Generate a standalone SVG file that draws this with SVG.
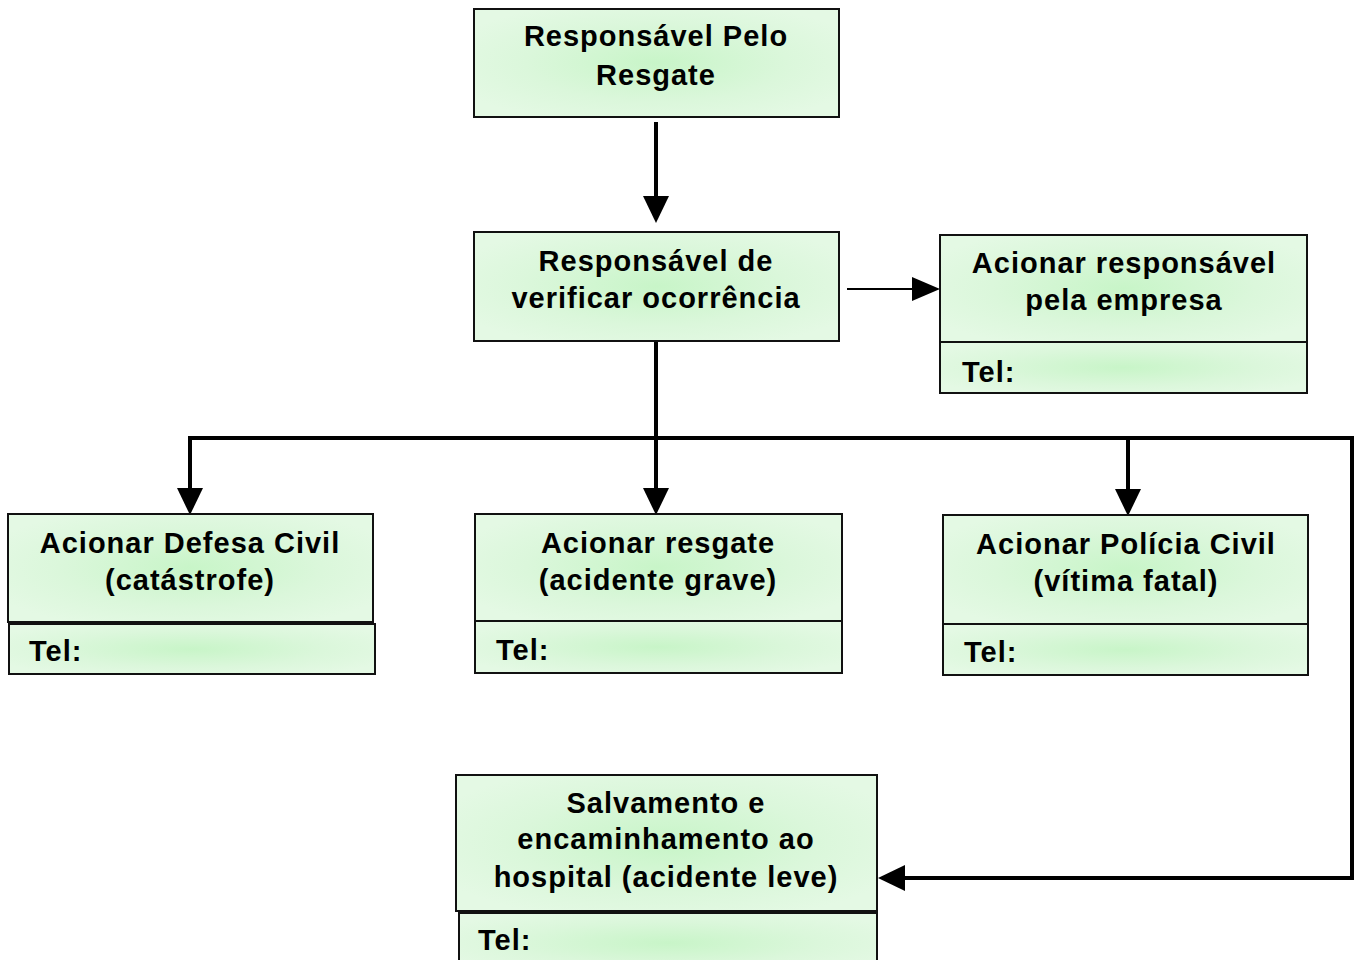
<svg xmlns="http://www.w3.org/2000/svg" width="1359" height="960" viewBox="0 0 1359 960">
<defs>
<radialGradient id="g" cx="0.5" cy="0.5" r="0.6">
<stop offset="0" stop-color="#c8f5c8"/>
<stop offset="0.6" stop-color="#dbf7db"/>
<stop offset="1" stop-color="#e4f9e4"/>
</radialGradient>
<marker id="ah" markerUnits="userSpaceOnUse" markerWidth="27" markerHeight="26" refX="0" refY="13" orient="auto" viewBox="0 0 27 26">
<path d="M0,0 L27,13 L0,26 Z" fill="#000"/>
</marker>
<marker id="ahs" markerUnits="userSpaceOnUse" markerWidth="28" markerHeight="24" refX="0" refY="12" orient="auto" viewBox="0 0 28 24">
<path d="M0,0 L28,12 L0,24 Z" fill="#000"/>
</marker>
</defs>
<style>
.b{fill:url(#g);stroke:#111;stroke-width:2}
.t{font-family:"Liberation Sans",Arial,sans-serif;font-weight:bold;font-size:29px;letter-spacing:1px;fill:#000;text-anchor:middle}
.l{font-family:"Liberation Sans",Arial,sans-serif;font-weight:bold;font-size:29px;letter-spacing:1px;fill:#000}
.c{fill:none;stroke:#000;stroke-width:4;stroke-linejoin:miter}
.cs{fill:none;stroke:#000;stroke-width:2}
</style>
<rect width="1359" height="960" fill="#fff"/>
<g id="connectors">
<path class="c" d="M656,122 L656,196" marker-end="url(#ah)"/>
<path class="cs" d="M847,289 L912,289" marker-end="url(#ahs)"/>
<path class="c" d="M656,341 L656,488" marker-end="url(#ah)"/>
<path class="c" d="M190,488 L190,438 L1352,438 L1352,878 L905,878" marker-end="url(#ah)"/>
<path class="c" d="M190,440 L190,488" marker-end="url(#ah)"/>
<path class="c" d="M1128,438 L1128,489" marker-end="url(#ah)"/>
</g>
<g id="n1">
<rect class="b" x="474" y="9" width="365" height="108"/>
<text class="t" x="656" y="46">Responsável Pelo</text>
<text class="t" x="656" y="85">Resgate</text>
</g>
<g id="n2">
<rect class="b" x="474" y="232" width="365" height="109"/>
<text class="t" x="656" y="271">Responsável de</text>
<text class="t" x="656" y="308">verificar ocorrência</text>
</g>
<g id="n3">
<rect class="b" x="940" y="235" width="367" height="107"/>
<rect class="b" x="940" y="342" width="367" height="51"/>
<text class="t" x="1124" y="273">Acionar responsável</text>
<text class="t" x="1124" y="310">pela empresa</text>
<text class="l" x="962" y="382">Tel:</text>
</g>
<g id="n4">
<rect class="b" x="8" y="514" width="365" height="108"/>
<rect class="b" x="9" y="624" width="366" height="50"/>
<text class="t" x="190" y="553">Acionar Defesa Civil</text>
<text class="t" x="190" y="590">(catástrofe)</text>
<text class="l" x="29" y="661">Tel:</text>
</g>
<g id="n5">
<rect class="b" x="475" y="514" width="367" height="107"/>
<rect class="b" x="475" y="621" width="367" height="52"/>
<text class="t" x="658" y="553">Acionar resgate</text>
<text class="t" x="658" y="590">(acidente grave)</text>
<text class="l" x="496" y="660">Tel:</text>
</g>
<g id="n6">
<rect class="b" x="943" y="515" width="365" height="109"/>
<rect class="b" x="943" y="624" width="365" height="51"/>
<text class="t" x="1126" y="554">Acionar Polícia Civil</text>
<text class="t" x="1126" y="591">(vítima fatal)</text>
<text class="l" x="964" y="662">Tel:</text>
</g>
<g id="n7">
<rect class="b" x="456" y="775" width="421" height="136"/>
<rect class="b" x="459" y="913" width="418" height="60"/>
<text class="t" x="666" y="813">Salvamento e</text>
<text class="t" x="666" y="849">encaminhamento ao</text>
<text class="t" x="666" y="887">hospital (acidente leve)</text>
<text class="l" x="478" y="950">Tel:</text>
</g>
</svg>
